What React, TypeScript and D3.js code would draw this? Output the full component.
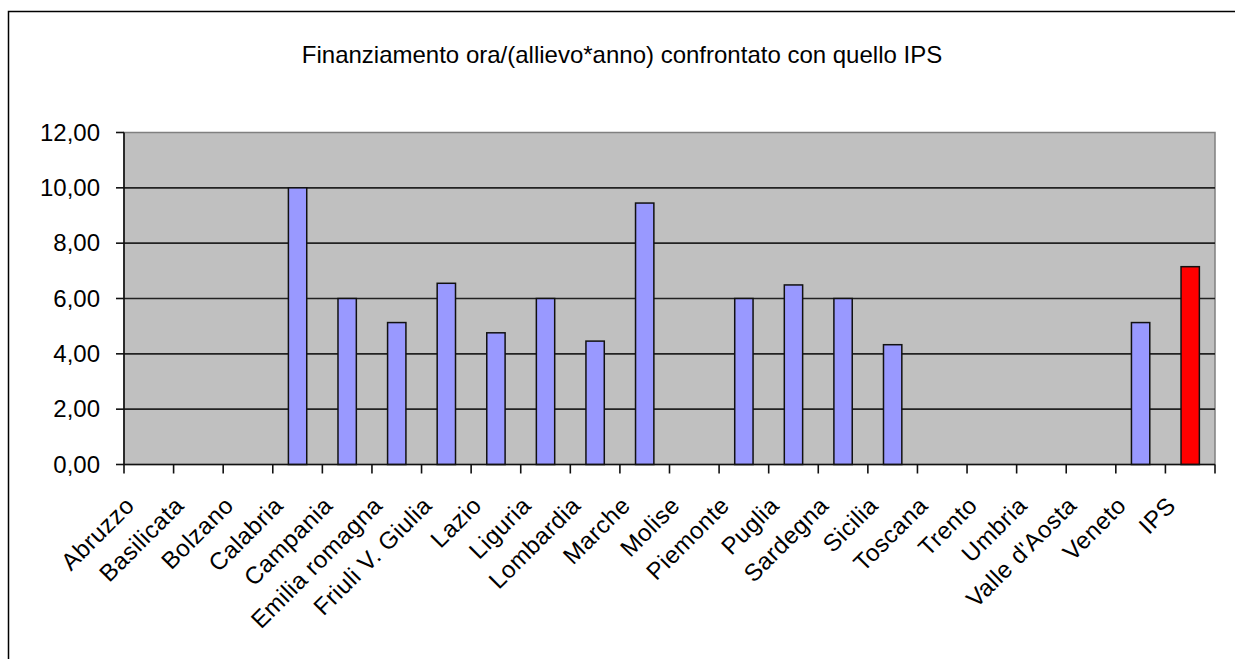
import React from "react";
import * as d3 from "d3";

const categories = [
  "Abruzzo", "Basilicata", "Bolzano", "Calabria", "Campania", "Emilia romagna",
  "Friuli V. Giulia", "Lazio", "Liguria", "Lombardia", "Marche", "Molise",
  "Piemonte", "Puglia", "Sardegna", "Sicilia", "Toscana", "Trento", "Umbria",
  "Valle d'Aosta", "Veneto", "IPS",
];
const values: (number | null)[] = [
  null, null, null, 10.0, 6.0, 5.13, 6.55, 4.76, 6.0, 4.46, 9.45, null,
  6.0, 6.49, 6.0, 4.33, null, null, null, null, 5.13, 7.15,
];
const highlighted = ["IPS"];
const yTicks = [0, 2, 4, 6, 8, 10, 12];
const title = "Finanziamento ora/(allievo*anno) confrontato con quello IPS";

const W = 1235;
const H = 659;
const plot = { left: 124, right: 1215, top: 132.5, bottom: 464.5 };
const FONT = "'Liberation Sans', Arial, sans-serif";

export default function App() {
  const x = d3
    .scaleBand<string>()
    .domain(categories)
    .range([plot.left, plot.right])
    .paddingInner(0.6)
    .paddingOuter(0.3);
  const y = d3.scaleLinear().domain([0, 12]).range([plot.bottom, plot.top]);
  const step = x.step();
  const fmt = (v: number) => d3.format(".2f")(v).replace(".", ",");

  return (
    <svg
      width={W}
      height={H}
      style={{ position: "absolute", left: 0, top: 0, background: "#fff" }}
      fontFamily={FONT}
    >
      <rect x={8.5} y={11.5} width={W + 20} height={H + 20} fill="#fff" stroke="#000" strokeWidth={1.5} />
      <text x={622} y={63} textAnchor="middle" fontSize={24} fill="#000">
        {title}
      </text>
      {/* plot area */}
      <rect
        x={plot.left}
        y={plot.top}
        width={plot.right - plot.left}
        height={plot.bottom - plot.top}
        fill="#C0C0C0"
        stroke="#808080"
        strokeWidth={1.5}
      />
      {/* gridlines */}
      {yTicks.filter((t) => t > 0 && t < 12).map((t) => (
        <line key={t} x1={plot.left} x2={plot.right} y1={y(t)} y2={y(t)} stroke="#222" strokeWidth={1.6} />
      ))}
      {/* bars */}
      {categories.map((c, i) => {
        const v = values[i];
        if (v == null) return null;
        const bx = x(c)!;
        return (
          <rect
            key={c}
            x={bx + 0.75}
            y={y(v)}
            width={x.bandwidth() - 1.5}
            height={y(0) - y(v)}
            fill={highlighted.includes(c) ? "#FF0000" : "#9999FF"}
            stroke="#111"
            strokeWidth={1.5}
          />
        );
      })}
      {/* y axis */}
      <line x1={plot.left} x2={plot.left} y1={plot.top} y2={plot.bottom} stroke="#111" strokeWidth={1.6} />
      {yTicks.map((t) => (
        <g key={t}>
          <line x1={plot.left - 8} x2={plot.left} y1={y(t)} y2={y(t)} stroke="#111" strokeWidth={1.6} />
          <text x={100} y={y(t) + 8} textAnchor="end" fontSize={24} fill="#000">
            {fmt(t)}
          </text>
        </g>
      ))}
      {/* x axis */}
      <line x1={plot.left} x2={plot.right} y1={plot.bottom} y2={plot.bottom} stroke="#111" strokeWidth={1.6} />
      {d3.range(categories.length + 1).map((i) => (
        <line
          key={i}
          x1={plot.left + i * step}
          x2={plot.left + i * step}
          y1={plot.bottom}
          y2={plot.bottom + 9}
          stroke="#111"
          strokeWidth={1.6}
        />
      ))}
      {categories.map((c) => {
        const cx = x(c)! + x.bandwidth() / 2;
        return (
          <text
            key={c}
            transform={`translate(${cx - 13},${507}) rotate(-45)`}
            textAnchor="end"
            fontSize={24}
            letterSpacing={0.5}
            fill="#000"
          >
            {c}
          </text>
        );
      })}
    </svg>
  );
}
